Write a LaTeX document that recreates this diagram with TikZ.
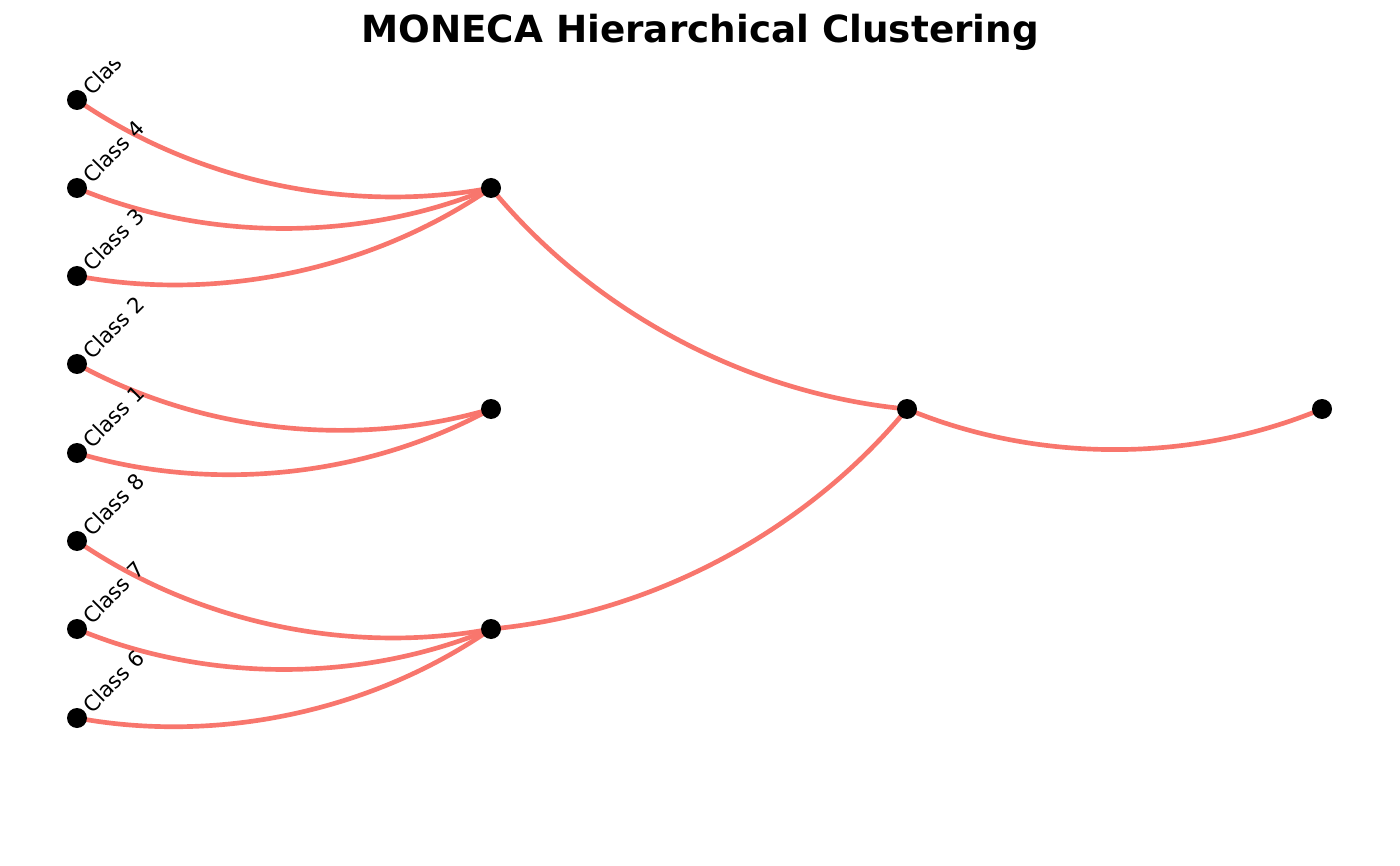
\documentclass[tikz,border=0pt]{standalone}
\usepackage{fontspec}
\setmainfont{DejaVu Sans}
\definecolor{moneca}{HTML}{F8766D}
\begin{document}
\begin{tikzpicture}[x=0.75pt,y=-0.75pt,
		edge/.style={draw=moneca,line width=3.5pt,bend right=22.6,looseness=0.87},
		classlabel/.style={anchor=west,rotate=45,inner xsep=9.75pt,inner ysep=0pt,font=\fontsize{16}{19}\selectfont}]
		\useasboundingbox (0,0) rectangle (1400,866);
		\node[anchor=base,font=\fontsize{28}{34}\selectfont\bfseries] (title) at (700,43) {MONECA Hierarchical Clustering};
		\coordinate (C5) at (77,100);
		\coordinate (C4) at (77,188);
		\coordinate (C3) at (77,276);
		\coordinate (C2) at (77,364);
		\coordinate (C1) at (77,453);
		\coordinate (C8) at (77,541);
		\coordinate (C7) at (77,629);
		\coordinate (C6) at (77,718);
		\coordinate (A) at (491,188);
		\coordinate (B) at (491,409);
		\coordinate (D) at (491,629);
		\coordinate (E) at (907,409);
		\coordinate (F) at (1322,409);
		\draw [edge] (C5) to (A);
		\draw [edge] (C4) to (A);
		\draw [edge] (C3) to (A);
		\draw [edge] (C2) to (B);
		\draw [edge] (C1) to (B);
		\draw [edge] (C8) to (D);
		\draw [edge] (C7) to (D);
		\draw [edge] (C6) to (D);
		\draw [edge] (A) to (E);
		\draw [edge] (D) to (E);
		\draw [edge] (E) to (F);
		\foreach \p in {C1,C2,C3,C4,C5,C6,C7,C8,A,B,D,E,F}
			\fill (\p) circle (7.5pt);
		\begin{scope}
			\clip (0,62) rectangle (1400,866);
			\node[classlabel] (L5) at (C5) {Clas};
			\node[classlabel] (L4) at (C4) {Class 4};
			\node[classlabel] (L3) at (C3) {Class 3};
			\node[classlabel] (L2) at (C2) {Class 2};
			\node[classlabel] (L1) at (C1) {Class 1};
			\node[classlabel] (L8) at (C8) {Class 8};
			\node[classlabel] (L7) at (C7) {Class 7};
			\node[classlabel] (L6) at (C6) {Class 6};
		\end{scope}
	\end{tikzpicture}
\end{document}
